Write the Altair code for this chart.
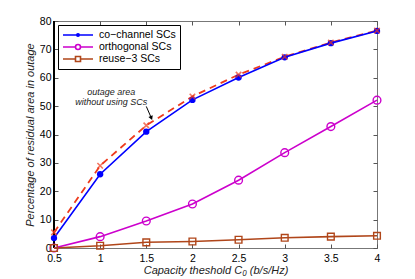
import altair as alt
import pandas as pd

capacity = [0.5, 1, 1.5, 2, 2.5, 3, 3.5, 4]
cochannel = [3.5, 26, 41, 52.2, 60.1, 67.2, 72.2, 76.5]
orthogonal = [0, 4, 9.5, 15.5, 23.9, 33.6, 42.8, 52.1]
reuse3 = [0, 0.8, 2.0, 2.3, 2.9, 3.6, 4.0, 4.3]
no_sc = [5.5, 29, 43.2, 53.4, 61.1, 67.4, 72.4, 76.6]

series_names = ["co\u2212channel SCs", "orthogonal SCs", "reuse\u22123 SCs"]
series_colors = ["#0000ff", "#cc00cc", "#b0461a"]
dash_color = "#ee3a1c"

x_ticks = [0.5, 1, 1.5, 2, 2.5, 3, 3.5, 4]
y_ticks = [0, 10, 20, 30, 40, 50, 60, 70, 80]

annot_lines = ["outage area", "without using SCs"]
annot_x = [1.12, 1.12]
annot_y = [55.0, 51.4]
arrow_x = [1.50, 1.555]
arrow_y = [49.9, 45.8]

FONT = "Liberation Sans"
W, H = 323, 227

rows = []
for name, vals in zip(series_names, [cochannel, orthogonal, reuse3]):
    for c, v in zip(capacity, vals):
        rows.append({"capacity": c, "value": v, "series": name})
df = pd.DataFrame(rows)
df_nosc = pd.DataFrame({"capacity": capacity, "value": no_sc})

xs = alt.Scale(domain=[0.5, 4], nice=False, zero=False)
ys = alt.Scale(domain=[0, 80], nice=False)

x_axis = alt.Axis(values=x_ticks, format="~g", domain=False, offset=-4,
                  tickSize=4, tickColor="#555", labelPadding=5, labelOverlap=False,
                  labelFlush=False, grid=False, titleFontStyle="italic",
                  titleFontWeight="normal", titlePadding=1)
y_axis = alt.Axis(values=y_ticks, domain=False, offset=-4, tickSize=4,
                  tickColor="#555", labelPadding=3, labelOverlap=False, labelFlush=False,
                  grid=False, titleFontStyle="italic", titleFontWeight="normal",
                  titlePadding=4)
X_TITLE = "Capacity theshold C\u2080 (b/s/Hz)"
Y_TITLE = "Percentage of residual area in outage"


def xe(field="capacity"):
    return alt.X(f"{field}:Q", scale=xs, axis=x_axis, title=X_TITLE)


def ye(field="value"):
    return alt.Y(f"{field}:Q", scale=ys, axis=y_axis, title=Y_TITLE)


def series_layers(name, color, shape, filled, size):
    d = df[df.series == name]
    ln = alt.Chart(d).mark_line(strokeWidth=1.6, color=color).encode(x=xe(), y=ye())
    pt = alt.Chart(d).mark_point(shape=shape, filled=filled, color=color, size=size,
                                 strokeWidth=1.4, opacity=1).encode(x=xe(), y=ye())
    return ln, pt


l1, p1 = series_layers(series_names[0], series_colors[0], "circle", True, 40)
l2, p2 = series_layers(series_names[1], series_colors[1], "circle", False, 60)
l3, p3 = series_layers(series_names[2], series_colors[2], "square", False, 45)

dash_line = alt.Chart(df_nosc).mark_line(strokeWidth=1.8, strokeDash=[7, 5], color=dash_color).encode(
    x=xe(), y=ye())
dash_pts = alt.Chart(df_nosc).mark_point(shape="M-1,-1L1,1M-1,1L1,-1", size=30, strokeWidth=1.6,
                                         color=dash_color).encode(x=xe(), y=ye())

left_line = alt.Chart(df_nosc).mark_rule(color="black", strokeWidth=1.2).encode(
    x=alt.value(0), y=alt.value(0), y2=alt.value(H))

# annotation
df_annot = pd.DataFrame({"x": annot_x, "y": annot_y, "t": annot_lines})
annot = alt.Chart(df_annot).mark_text(fontStyle="italic", fontSize=9, font=FONT, color="#222").encode(
    x=xe("x"), y=ye("y"), text="t:N")
df_arrow = pd.DataFrame({"x": [arrow_x[0]], "y": [arrow_y[0]], "x2": [arrow_x[1]], "y2": [arrow_y[1]]})
arrow_line = alt.Chart(df_arrow).mark_rule(color="black", strokeWidth=1).encode(
    x=xe("x"), y=ye("y"), x2="x2:Q", y2="y2:Q")
arrow_head = alt.Chart(df_arrow).mark_point(shape="triangle-down", filled=True, color="black",
                                            size=22, angle=337, opacity=1).encode(
    x=xe("x2"), y=ye("y2"))

# legend (symbols drawn as line + marker)
leg_shapes = [
    "M-3,0L3,0M0.25,0A0.25,0.25 0 1,1 -0.25,0A0.25,0.25 0 1,1 0.25,0",
    "M-3,0L-0.5,0M0.5,0L3,0M0.5,0A0.5,0.5 0 1,1 -0.5,0A0.5,0.5 0 1,1 0.5,0",
    "M-3,0L-0.5,0M0.5,0L3,0M-0.5,-0.5L0.5,-0.5L0.5,0.5L-0.5,0.5Z",
]
legend_layer = alt.Chart(df).transform_filter("false").mark_point(opacity=1).encode(
    x=xe(), y=ye(),
    stroke=alt.Stroke("series:N", scale=alt.Scale(domain=series_names, range=series_colors),
                      legend=alt.Legend(title=None, orient="top-left", offset=4,
                                        strokeColor="black", fillColor="white", padding=4,
                                        labelFont=FONT, labelFontSize=10.5, labelColor="black",
                                        symbolSize=100, symbolStrokeWidth=1.6, symbolOffset=10,
                                        labelOffset=15, rowPadding=0, cornerRadius=0)),
    fill=alt.Fill("series:N", scale=alt.Scale(domain=series_names,
                                               range=[series_colors[0], "transparent", "transparent"])),
    shape=alt.Shape("series:N", scale=alt.Scale(domain=series_names, range=leg_shapes)),
)

main = alt.layer(
    left_line, dash_line, l1, l2, l3, p1, p2, p3, dash_pts, annot, arrow_line, arrow_head,
    legend_layer,
)

mirror = alt.Chart(df_nosc).mark_point(opacity=0).encode(
    x=alt.X("capacity:Q", scale=alt.Scale(domain=[0.5, 4], nice=False, zero=False),
            axis=alt.Axis(orient="top", values=x_ticks, labels=False, title=None, domain=False,
                          offset=-4, tickSize=4, tickColor="#555", grid=False)),
    y=alt.Y("value:Q", scale=alt.Scale(domain=[0, 80], nice=False),
            axis=alt.Axis(orient="right", values=y_ticks, labels=False, title=None, domain=False,
                          offset=-4, tickSize=4, tickColor="#555", grid=False)),
)

chart = alt.layer(main, mirror).resolve_scale(x="independent", y="independent").properties(
    width=W, height=H,
    autosize=alt.AutoSizeParams(type="none"),
    padding={"left": 46, "top": 13, "right": 30, "bottom": 40},
).configure_view(stroke="#777", strokeWidth=1).configure_axis(
    labelFont=FONT, labelFontSize=10.5, labelColor="black", titleFont=FONT, titleFontSize=11,
    titleColor="#222",
)

chart.save("out.html", embed_options={"renderer": "svg", "actions": False})
